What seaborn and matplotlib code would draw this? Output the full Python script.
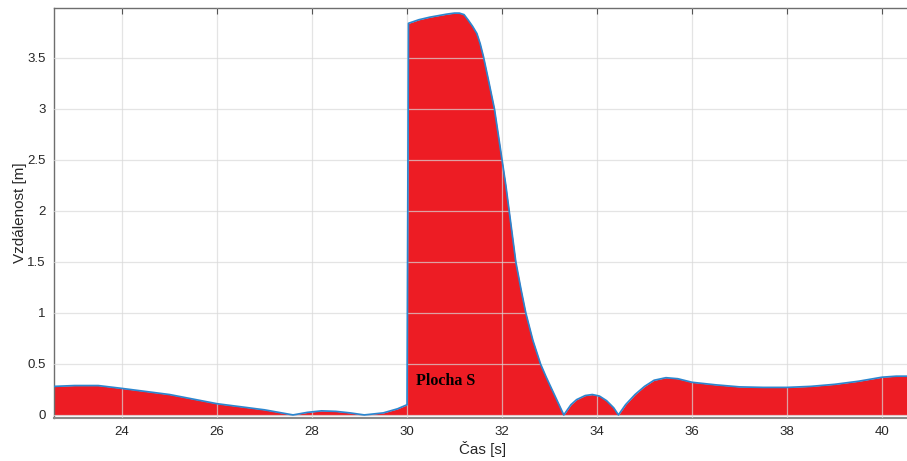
import numpy as np
import pandas as pd
import matplotlib
matplotlib.use("Agg")
import matplotlib.pyplot as plt
import seaborn as sns

# ---- data ----
time_s = [22.57, 23.0, 23.5, 24.0, 24.5, 25.0, 25.5, 26.0, 26.5, 27.0, 27.3, 27.6,
          27.9, 28.2, 28.5, 28.8, 29.1, 29.5, 29.8, 30.0,
          30.03, 30.25, 30.48, 30.66, 30.84, 31.0, 31.1, 31.2, 31.29, 31.38, 31.47,
          31.54, 31.61, 31.72, 31.84, 31.92, 32.0, 32.08, 32.15, 32.22, 32.29,
          32.4, 32.5, 32.65, 32.81, 32.93, 33.05, 33.18, 33.3,
          33.45, 33.57, 33.75, 33.9, 34.05, 34.2, 34.35, 34.45,
          34.6, 34.8, 35.0, 35.2, 35.45, 35.7, 36.0, 36.5, 37.0, 37.5, 38.0,
          38.5, 39.0, 39.5, 40.0, 40.3, 40.62]
distance_m = [0.28, 0.288, 0.288, 0.26, 0.23, 0.20, 0.155, 0.11, 0.08, 0.05, 0.025, 0.0,
              0.025, 0.04, 0.035, 0.02, 0.0, 0.02, 0.06, 0.1,
              3.84, 3.875, 3.90, 3.915, 3.93, 3.94, 3.94, 3.925, 3.87, 3.81, 3.74,
              3.64, 3.51, 3.27, 3.0, 2.75, 2.5, 2.25, 2.0, 1.75, 1.5,
              1.23, 1.0, 0.73, 0.5, 0.37, 0.25, 0.12, 0.0,
              0.1, 0.15, 0.19, 0.2, 0.185, 0.14, 0.07, 0.0,
              0.1, 0.2, 0.28, 0.34, 0.365, 0.355, 0.32, 0.295, 0.275, 0.27, 0.27,
              0.28, 0.30, 0.33, 0.37, 0.38, 0.38]
x_ticks = [24, 26, 28, 30, 32, 34, 36, 38, 40]
y_ticks = [0, 0.5, 1, 1.5, 2, 2.5, 3, 3.5]
y_ticklabels = ["0", "0.5", "1", "1.5", "2", "2.5", "3", "3.5"]
annotation = "Plocha S"
x_label = "Čas [s]"
y_label = "Vzdálenost [m]"

df = pd.DataFrame({"t": time_s, "d": distance_m})

sns.set_style("white")
plt.rcParams["font.family"] = ["Liberation Sans", "DejaVu Sans"]

fig = plt.figure(figsize=(9.07, 4.61), dpi=100)
ax = fig.add_axes([54 / 907, 1 - 418 / 461, 1.005 - 54 / 907, (418 - 8) / 461])

ax.fill_between(df["t"], 0, df["d"], color="#ED1C24", linewidth=0, zorder=1)
sns.lineplot(data=df, x="t", y="d", ax=ax, color="#2C86CF", linewidth=1.25,
             zorder=3, estimator=None, sort=False)

ax.set_xlim(22.568, 40.62)
ax.set_ylim(-0.03, 3.99)
ax.set_xticks(x_ticks)
ax.set_xticklabels([str(v) for v in x_ticks])
ax.set_yticks(y_ticks)
ax.set_yticklabels(y_ticklabels)

ax.grid(True, color="#d9d9d9", linewidth=0.9, alpha=0.7, zorder=2)
ax.set_axisbelow(False)
for ln in ax.get_xgridlines() + ax.get_ygridlines():
    ln.set_zorder(2)

ax.tick_params(axis="both", direction="in", length=4, width=0.8, color="#555555",
               labelsize=9.5, labelcolor="#262626", top=True, right=False, pad=6)
for s in ["left", "bottom", "top"]:
    ax.spines[s].set_visible(True)
    ax.spines[s].set_color("#6e6e6e")
    ax.spines[s].set_linewidth(1.0)
ax.spines["bottom"].set_linewidth(1.5)
ax.spines["bottom"].set_color("#8a8a8a")
ax.spines["right"].set_visible(False)

ax.set_xlabel(x_label, fontsize=11, color="#262626", labelpad=2)
ax.set_ylabel(y_label, fontsize=11, color="#262626", labelpad=0)

ax.text(30.19, 0.33, annotation, fontsize=11.5, fontweight="bold",
        family=["Liberation Serif", "DejaVu Serif"], color="black",
        ha="left", va="center", zorder=4)

fig.savefig("out.png", dpi=100)
